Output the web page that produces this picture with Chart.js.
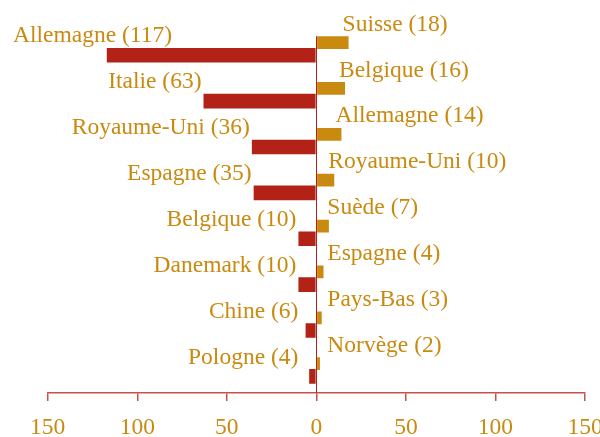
<!DOCTYPE html>
<html>
<head>
<meta charset="utf-8">
<script src="https://cdn.jsdelivr.net/npm/chart.js@4/dist/chart.umd.min.js"></script>
<style>
  html, body { margin: 0; padding: 0; background: #fff; }
  #wrap { width: 600px; height: 437px; }
</style>
</head>
<body>
<div id="wrap"><canvas id="chart"></canvas></div>
<script>
// left side (red) and right side (gold)
const leftCountries = ['Allemagne', 'Italie', 'Royaume-Uni', 'Espagne', 'Belgique', 'Danemark', 'Chine', 'Pologne'];
const leftValues = [117, 63, 36, 35, 10, 10, 6, 4];
const rightCountries = ['Suisse', 'Belgique', 'Allemagne', 'Royaume-Uni', 'Suède', 'Espagne', 'Pays-Bas', 'Norvège'];
const rightValues = [18, 16, 14, 10, 7, 4, 3, 2];
const xMin = -150;
const xMax = 150;
const xStep = 50;

const RED = '#B22217';
const GOLD = '#C98A10';
const AXIS = '#C9504A';
const FONT = '"Liberation Serif", "Times New Roman", serif';
const FONT_SIZE = 23.5;

// country labels next to the bars + zero line
const barLabels = {
  id: 'barLabels',
  afterDatasetsDraw(chart) {
    const ctx = chart.ctx;
    const zeroX = chart.scales.x.getPixelForValue(0);
    const goldMeta = chart.getDatasetMeta(0);
    const redMeta = chart.getDatasetMeta(1);

    ctx.save();
    // zero line
    const first = goldMeta.data[0];
    ctx.strokeStyle = RED;
    ctx.lineWidth = 1;
    ctx.beginPath();
    ctx.moveTo(Math.round(zeroX) + 0.5, first.y - first.height / 2);
    ctx.lineTo(Math.round(zeroX) + 0.5, chart.chartArea.bottom);
    ctx.stroke();

    ctx.font = FONT_SIZE + 'px ' + FONT;
    ctx.fillStyle = GOLD;
    ctx.textBaseline = 'alphabetic';

    redMeta.data.forEach((bar, i) => {
      const txt = leftCountries[i] + ' (' + leftValues[i] + ')';
      const w = ctx.measureText(txt).width;
      let end = Math.min(bar.x - 2, zeroX - 18);
      if (end - w < 13) end = 13 + w;
      ctx.textAlign = 'right';
      ctx.fillText(txt, end, bar.y - bar.height / 2 - 5.5);
    });

    goldMeta.data.forEach((bar, i) => {
      const txt = rightCountries[i] + ' (' + rightValues[i] + ')';
      const start = Math.max(bar.x - 6, zeroX + 11);
      ctx.textAlign = 'left';
      ctx.fillText(txt, start, bar.y - bar.height / 2 - 5.5);
    });
    ctx.restore();
  }
};

new Chart(document.getElementById('chart'), {
  type: 'bar',
  data: {
    labels: leftCountries,
    datasets: [
      {
        label: 'droite',
        data: rightValues,
        backgroundColor: GOLD,
        barPercentage: 1.0,
        categoryPercentage: 0.554,
      },
      {
        label: 'gauche',
        data: leftValues.map(v => -v),
        backgroundColor: RED,
        barPercentage: 1.15,
        categoryPercentage: 0.554,
      },
    ],
  },
  options: {
    indexAxis: 'y',
    responsive: true,
    maintainAspectRatio: false,
    animation: false,
    layout: { padding: { top: 26, left: 47.7, right: 15, bottom: 0 } },
    plugins: {
      legend: { display: false },
      tooltip: { enabled: false },
    },
    scales: {
      y: { display: false },
      x: {
        min: xMin,
        max: xMax,
        afterFit(scale) {
          scale.paddingLeft = 0;
          scale.paddingRight = 0;
          scale.height = 44;
        },
        ticks: {
          stepSize: xStep,
          padding: 13,
          maxRotation: 0,
          color: GOLD,
          font: { family: FONT, size: FONT_SIZE },
          callback: v => Math.abs(v),
        },
        grid: {
          drawOnChartArea: false,
          drawTicks: true,
          tickLength: 8,
          color: AXIS,
          lineWidth: 1.5,
        },
        border: { display: true, color: AXIS, width: 1.5 },
      },
    },
  },
  plugins: [barLabels],
});
</script>
</body>
</html>
